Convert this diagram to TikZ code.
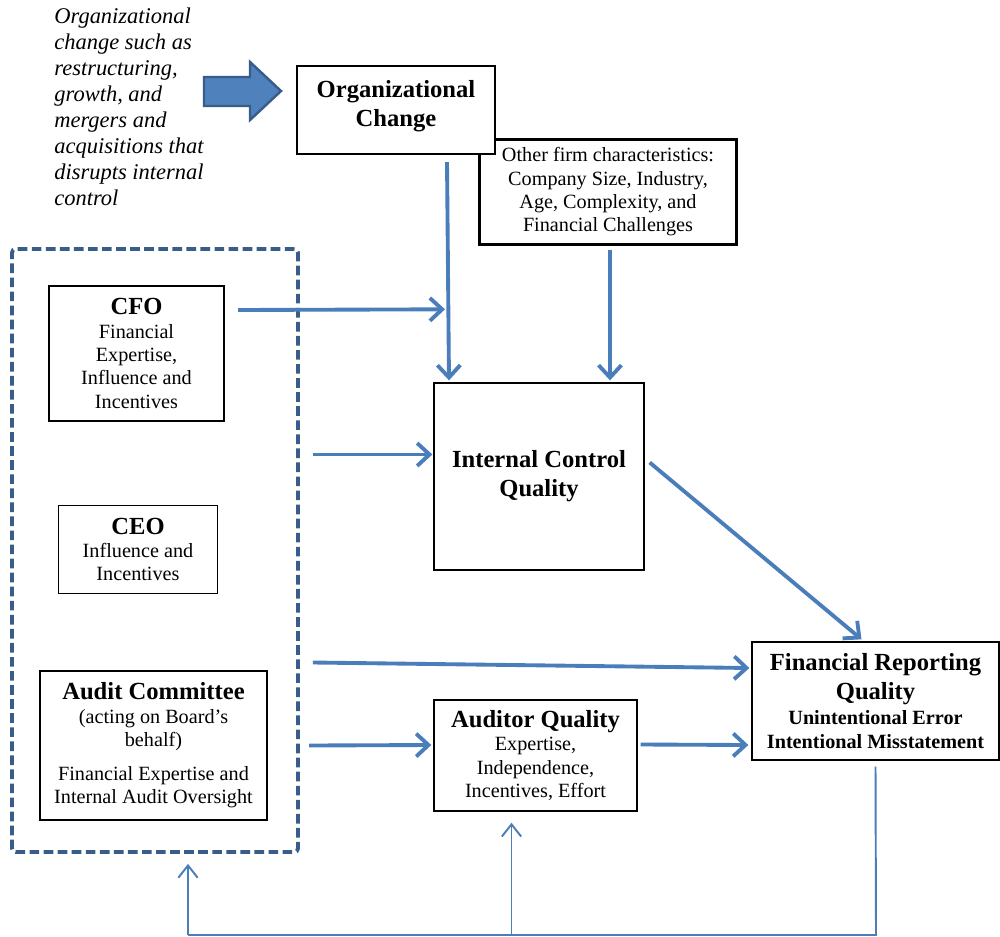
\documentclass[tikz,border=0pt]{standalone}
\usepackage{fontspec}
\setmainfont{Liberation Serif}
\usetikzlibrary{arrows.meta}
\definecolor{flowblue}{RGB}{74,126,187}
\definecolor{edgeblue}{RGB}{56,93,138}
\definecolor{fillblue}{RGB}{79,129,189}
\newcommand{\hdfont}{\fontsize{14}{16.5}\selectfont\bfseries}
\newcommand{\txfont}{\fontsize{11.5}{13.3}\selectfont}
\newcommand{\itfont}{\fontsize{12.8}{14.8}\selectfont\itshape}

\begin{document}
\begin{tikzpicture}[x=0.02cm,y=-0.02cm,
  box/.style={draw,line width=0.8pt,fill=white,align=center,inner sep=2pt,font=\txfont},
  heavybox/.style={box,line width=1.2pt},
  flow/.style={flowblue,line width=2.2pt,-{Straight Barb[length=7pt,width=13pt]}},
  back/.style={flowblue,line width=1.1pt},
  backtip/.style={back,-{Straight Barb[length=7pt,width=11pt]}}]
\useasboundingbox (0,0) rectangle (1000,936);
% what drives the change
\node[anchor=north west,align=left,inner sep=0,font=\itfont] (cause) at (54,8)
  {Organizational\\change such as\\restructuring,\\growth, and\\mergers and\\acquisitions that\\disrupts internal\\control};
\draw[edgeblue,line width=1.4pt,fill=fillblue] (204,77) -- (250,77) -- (250,62) -- (281,91)
  -- (250,120) -- (250,106) -- (204,106) -- cycle;
% firm level
\node[heavybox,minimum width=5.14cm,minimum height=2.1cm] (firm) at (608,192)
  {Other firm characteristics:\\Company Size, Industry,\\Age, Complexity, and\\Financial Challenges};
\node[heavybox,minimum width=3.96cm,minimum height=1.76cm,font=\hdfont,text depth=7.5pt] (oc) at (396,110)
  {Organizational\\Change};
% governance group
\node[draw=edgeblue,line width=2.2pt,dash pattern=on 5.5pt off 2.5pt,rounded corners=2pt,
  minimum width=5.72cm,minimum height=12.06cm] (board) at (155,550.5) {};
\node[heavybox,minimum width=3.5cm,minimum height=2.7cm] (cfo) at (136.5,353.5)
  {{\hdfont CFO}\\Financial\\Expertise,\\Influence and\\Incentives};
\node[box,minimum width=3.18cm,minimum height=1.76cm] (ceo) at (138,549.5)
  {{\hdfont CEO}\\Influence and\\Incentives};
\node[heavybox,minimum width=4.54cm,minimum height=2.98cm] (ac) at (153.5,745.5)
  {{\hdfont Audit Committee}\\(acting on Board’s\\behalf)\\[6pt]Financial Expertise and\\Internal Audit Oversight};
% outcomes
\node[box,minimum width=4.2cm,minimum height=3.74cm,font=\hdfont] (icq) at (539,476.5)
  {Internal Control\\Quality};
\node[box,minimum width=4.06cm,minimum height=2.22cm] (aq) at (535.5,755.5)
  {{\hdfont Auditor Quality}\\Expertise,\\Independence,\\Incentives, Effort};
\node[box,minimum width=4.94cm,minimum height=2.36cm] (frq) at (875.5,701)
  {{\hdfont Financial Reporting}\\[3pt]{\hdfont Quality}\\[1pt]{\bfseries Unintentional Error}\\{\bfseries Intentional Misstatement}};
% arrows
\draw[flow] ([shift={(13,-43.5)}]cfo.east) -- ([shift={(-94,-73)}]icq.north);
\draw[flow] ([shift={(51,7)}]oc.south) -- ([shift={(-90,-2)}]icq.north);
\draw[flow] ([shift={(2,4)}]firm.south) -- ([shift={(71,-2)}]icq.north);
\draw[flow] ([shift={(13,-96)}]board.east) -- ([shift={(-1,-22)}]icq.west);
\draw[flow] ([shift={(5,-14)}]icq.east) -- ([shift={(-14,-2)}]frq.north);
\draw[flow] ([shift={(13,112)}]board.east) -- ([shift={(-2,-33)}]frq.west);
\draw[flow] ([shift={(41,0)}]ac.east) -- ([shift={(-2,-10.5)}]aq.west);
\draw[flow] ([shift={(3,-11)}]aq.east) -- ([shift={(-3,44)}]frq.west);
% feedback
\coordinate (fbr) at (876,935);
\coordinate (fbl) at (188,935);
\draw[back] ([shift={(0,6)}]frq.south) -- (fbr) -- (fbl);
\draw[backtip] (fbl) -- ([shift={(33,10)}]board.south);
\draw[backtip] ([shift={(-24,124)}]aq.south) -- ([shift={(-24,11)}]aq.south);
\end{tikzpicture}
\end{document}
